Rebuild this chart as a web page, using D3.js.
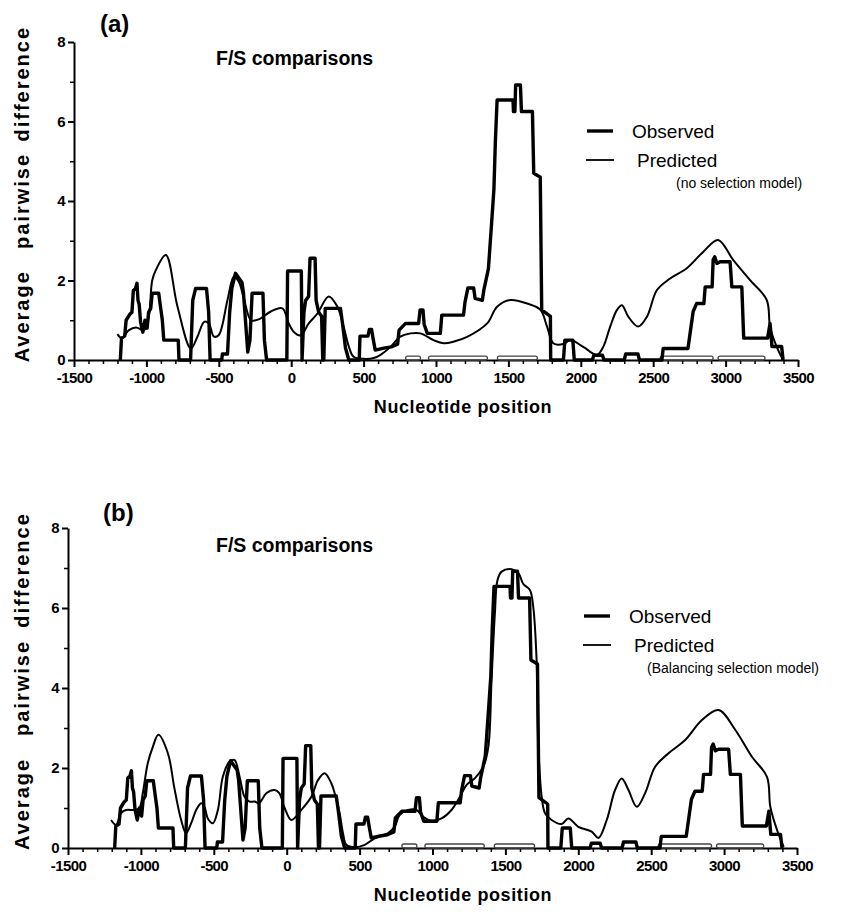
<!DOCTYPE html>
<html>
<head>
<meta charset="utf-8">
<title>F/S comparisons</title>
<script src="https://d3js.org/d3.v7.min.js"></script>
<style>
  body { margin: 0; background: #fff; }
  text { font-family: "Liberation Sans", Arial, Helvetica, sans-serif; fill: #000; }
  .axis path, .axis line { stroke: #000; stroke-width: 2px; }
  .axis text { font-size: 15px; font-weight: bold; letter-spacing: -0.6px; }
  .minor line { stroke-width: 1.5px; }
  .ylab { font-size: 20px; font-weight: bold; letter-spacing: 2px; }
  .xlab { font-size: 18px; font-weight: bold; letter-spacing: 0.6px; }
  .title { font-size: 19.5px; font-weight: bold; }
  .panel { font-size: 24px; font-weight: bold; }
  .leg { font-size: 19px; }
  .note { font-size: 14px; }
</style>
</head>
<body>
<svg id="chart" width="851" height="915"></svg>
<script>
// observed average pairwise difference (same in both panels), [position, value]
var observed = [
  [-1180, 0], [-1172, 0.55], [-1150, 0.6], [-1140, 1.0], [-1115, 1.15], [-1100, 1.2],
  [-1090, 1.75], [-1075, 1.8], [-1065, 1.93], [-1058, 1.5], [-1050, 1.4], [-1040, 0.95],
  [-1025, 0.7], [-1010, 1.0], [-995, 0.8], [-985, 1.2], [-970, 1.3], [-960, 1.68],
  [-915, 1.68], [-905, 1.4], [-890, 1.0], [-880, 0.5], [-780, 0.5], [-775, 0],
  [-695, 0], [-680, 1.5], [-660, 1.8], [-585, 1.8], [-570, 1.2], [-560, 0],
  [-480, 0], [-475, 0.15], [-440, 0.15], [-425, 1.2], [-410, 1.8], [-385, 2.18],
  [-340, 1.95], [-330, 1.7], [-300, 0.2], [-285, 0.5], [-270, 1.68], [-195, 1.68],
  [-185, 0.5], [-170, 0], [-30, 0], [-25, 2.24], [70, 2.24], [75, 0],
  [88, 1.2], [100, 1.5], [120, 1.6], [130, 2.56], [165, 2.56], [172, 1.5],
  [190, 1.2], [210, 1.1], [218, 0], [225, 0], [235, 1.3], [340, 1.3],
  [355, 0.9], [375, 0.3], [398, 0], [470, 0], [475, 0.6], [530, 0.6],
  [540, 0.77], [555, 0.77], [565, 0.55], [580, 0.25], [640, 0.3], [690, 0.33],
  [735, 0.4], [745, 0.75], [790, 0.92], [880, 0.92], [890, 1.26], [910, 1.26],
  [918, 0.9], [940, 0.67], [1030, 0.67], [1040, 1.13], [1190, 1.13], [1200, 1.45],
  [1220, 1.81], [1260, 1.81], [1270, 1.55], [1320, 1.5], [1330, 1.75], [1362, 2.3],
  [1387, 3.6], [1400, 4.3], [1410, 5.5], [1422, 6.54], [1532, 6.54], [1535, 6.25],
  [1545, 6.25], [1550, 6.92], [1583, 6.92], [1590, 6.25], [1666, 6.25], [1675, 4.7],
  [1720, 4.6], [1730, 1.26], [1790, 1.1], [1792, 0], [1880, 0], [1890, 0.5],
  [1945, 0.5], [1955, 0], [2080, 0], [2090, 0.12], [2150, 0.12], [2160, 0],
  [2300, 0], [2310, 0.15], [2395, 0.15], [2405, 0], [2560, 0], [2569, 0.29],
  [2740, 0.29], [2776, 1.22], [2800, 1.42], [2850, 1.42], [2859, 1.84], [2907, 1.84],
  [2914, 2.52], [2925, 2.6], [2940, 2.43], [2962, 2.47], [3031, 2.47], [3043, 1.84],
  [3112, 1.84], [3125, 0.55], [3290, 0.55], [3307, 0.92], [3320, 0.34], [3387, 0.34],
  [3397, 0]
];

// predicted, no selection model
var predictedA = [
  [-1200, 0.65], [-1170, 0.55], [-1121, 0.75], [-1072, 0.82], [-1017, 0.75], [-985, 1.05],
  [-960, 2.0], [-935, 2.26], [-866, 2.64], [-785, 1.34], [-693, 0.29], [-647, 0.59],
  [-601, 0.96], [-569, 0.92], [-534, 0.59], [-500, 0.63], [-440, 1.51], [-396, 2.1],
  [-362, 1.97], [-327, 1.55], [-279, 1.0], [-245, 1.0], [-210, 1.05], [-141, 1.22],
  [-61, 1.3], [-17, 0.92], [20, 0.7], [66, 0.62], [121, 0.92], [181, 1.17],
  [259, 1.6], [319, 1.34], [362, 0.84], [398, 0.34], [431, 0.08], [500, 0.03],
  [570, 0.05], [617, 0.13], [686, 0.33], [750, 0.58], [824, 0.67], [893, 0.67],
  [983, 0.5], [1052, 0.42], [1130, 0.47], [1215, 0.58], [1353, 0.92], [1422, 1.34],
  [1514, 1.51], [1629, 1.42], [1721, 1.26], [1767, 0.84], [1810, 0.42], [1879, 0.4],
  [1928, 0.5], [2017, 0.33], [2112, 0.13], [2155, 0.33], [2203, 0.84], [2250, 1.26],
  [2284, 1.38], [2328, 1.09], [2397, 0.84], [2457, 1.09], [2526, 1.76], [2617, 2.05],
  [2732, 2.31], [2845, 2.72], [2948, 3.02], [3052, 2.52], [3169, 2.01], [3284, 1.51],
  [3307, 0.84], [3353, 0.33], [3397, 0]
];

// predicted, balancing selection model
var predictedB = [
  [-1205, 0.7], [-1170, 0.58], [-1136, 0.87], [-1102, 0.95], [-1040, 0.95], [-1010, 1.0],
  [-987, 1.37], [-953, 2.12], [-918, 2.53], [-880, 2.83], [-815, 2.37], [-770, 1.49],
  [-724, 0.7], [-690, 0.37], [-655, 0.62], [-621, 0.95], [-587, 1.12], [-566, 1.05],
  [-541, 0.74], [-506, 0.62], [-472, 0.95], [-438, 1.78], [-392, 2.16], [-358, 2.2],
  [-323, 1.78], [-289, 1.28], [-255, 1.16], [-220, 1.16], [-190, 1.12], [-140, 1.37],
  [-83, 1.45], [-51, 1.37], [-14, 1.0], [32, 0.7], [100, 0.95], [169, 1.28],
  [215, 1.7], [260, 1.87], [306, 1.62], [329, 1.37], [363, 0.87], [386, 0.37],
  [409, 0.08], [470, 0.02], [535, 0.08], [604, 0.24], [696, 0.37], [742, 0.54],
  [775, 0.83], [833, 0.95], [890, 0.95], [936, 0.78], [993, 0.68], [1062, 0.74],
  [1130, 0.95], [1188, 1.28], [1234, 1.58], [1290, 1.74], [1348, 2.03], [1383, 2.53],
  [1405, 4.2], [1428, 5.87], [1446, 6.7], [1474, 6.91], [1543, 6.97], [1589, 6.87],
  [1623, 6.6], [1668, 6.45], [1691, 6.03], [1714, 4.7], [1726, 2.53], [1749, 1.28],
  [1772, 0.87], [1817, 0.7], [1886, 0.6], [1932, 0.74], [2000, 0.53], [2092, 0.41],
  [2138, 0.25], [2195, 0.7], [2252, 1.45], [2298, 1.74], [2344, 1.45], [2401, 1.03],
  [2458, 1.37], [2527, 2.03], [2619, 2.37], [2733, 2.7], [2848, 3.2], [2962, 3.45],
  [3077, 2.95], [3191, 2.28], [3294, 1.78], [3317, 1.03], [3363, 0.45], [3409, 0.03]
];

// small boxes sitting on the baseline, [start, end]
var segments = [[790, 893], [948, 1355], [1424, 1700], [2548, 2914], [2948, 3272]];
var segHeight = 0.1;

var xTicks = [-1500, -1000, -500, 0, 500, 1000, 1500, 2000, 2500, 3000, 3500];
var xMinor = d3.range(-1500, 3501, 100).filter(function(d) { return d % 500 != 0; });
var yTicks = [0, 2, 4, 6, 8];
var yMinor = [1, 3, 5, 7];
var yWords = [["Average", 1.1], ["pairwise", 4.0], ["difference", 6.95]];

var svg = d3.select("#chart");

var panels = [
  {tag: "(a)", left: 74, right: 798, top: 42, bottom: 360, predicted: predictedA,
   note: "(no selection model)", titleY: 65, tagX: 100, tagY: 32,
   legX: 586, legY: 133, noteX: 676},
  {tag: "(b)", left: 68, right: 797, top: 528, bottom: 848, predicted: predictedB,
   note: "(Balancing selection model)", titleY: 552, tagX: 103, tagY: 521,
   legX: 583, legY: 618, noteX: 647}
];

panels.forEach(function(p) {
  var x = d3.scaleLinear().domain([-1500, 3500]).range([p.left, p.right]);
  var y = d3.scaleLinear().domain([0, 8]).range([p.bottom, p.top]);
  var g = svg.append("g");

  // minor ticks first so major ones sit on top
  g.append("g")
      .attr("class", "axis minor")
      .attr("transform", "translate(0," + p.bottom + ")")
      .call(d3.axisBottom(x).tickValues(xMinor).tickSize(4).tickSizeOuter(0).tickFormat(""))
      .select(".domain").remove();
  g.append("g")
      .attr("class", "axis minor")
      .attr("transform", "translate(" + p.left + ",0)")
      .call(d3.axisLeft(y).tickValues(yMinor).tickSize(4).tickSizeOuter(0).tickFormat(""))
      .select(".domain").remove();

  g.append("g")
      .attr("class", "axis")
      .attr("transform", "translate(0," + p.bottom + ")")
      .call(d3.axisBottom(x).tickValues(xTicks).tickSize(7).tickSizeOuter(0)
        .tickPadding(5).tickFormat(function(d) { return String(d); }));

  g.append("g")
      .attr("class", "axis")
      .attr("transform", "translate(" + p.left + ",0)")
      .call(d3.axisLeft(y).tickValues(yTicks).tickSize(6).tickSizeOuter(0)
        .tickPadding(3).tickFormat(function(d) { return String(d); }));

  // baseline boxes
  g.selectAll(".seg")
    .data(segments)
    .enter().append("rect")
      .attr("class", "seg")
      .attr("x", function(d) { return x(d[0]); })
      .attr("y", y(segHeight))
      .attr("width", function(d) { return x(d[1]) - x(d[0]); })
      .attr("height", y(0) - y(segHeight))
      .attr("rx", 2)
      .attr("fill", "none")
      .attr("stroke", "#444")
      .attr("stroke-width", 1.3);

  var line = d3.line()
      .x(function(d) { return x(d[0]); })
      .y(function(d) { return y(d[1]); });

  g.append("path")
      .datum(p.predicted)
      .attr("d", line.curve(d3.curveCatmullRom.alpha(0.5)))
      .attr("fill", "none")
      .attr("stroke", "#000")
      .attr("stroke-width", 2)
      .attr("stroke-linejoin", "round");

  g.append("path")
      .datum(observed)
      .attr("d", line.curve(d3.curveLinear))
      .attr("fill", "none")
      .attr("stroke", "#000")
      .attr("stroke-width", 3.4)
      .attr("stroke-linejoin", "round");

  // labels
  g.append("text").attr("class", "panel").attr("x", p.tagX).attr("y", p.tagY).text(p.tag);
  g.append("text").attr("class", "title").attr("x", 216).attr("y", p.titleY).text("F/S comparisons");
  g.append("text").attr("class", "xlab")
      .attr("x", 463).attr("y", p.bottom + 53)
      .attr("text-anchor", "middle")
      .text("Nucleotide position");

  yWords.forEach(function(w) {
    g.append("text").attr("class", "ylab")
        .attr("transform", "translate(29," + y(w[1]) + ") rotate(-90)")
        .attr("text-anchor", "middle")
        .text(w[0]);
  });

  // legend
  g.append("line").attr("x1", p.legX + 1).attr("x2", p.legX + 27)
      .attr("y1", p.legY - 2).attr("y2", p.legY - 2)
      .attr("stroke", "#000").attr("stroke-width", 3.4);
  g.append("text").attr("class", "leg").attr("x", p.legX + 46).attr("y", p.legY + 5).text("Observed");
  g.append("line").attr("x1", p.legX).attr("x2", p.legX + 28)
      .attr("y1", p.legY + 27).attr("y2", p.legY + 27)
      .attr("stroke", "#000").attr("stroke-width", 1.8);
  g.append("text").attr("class", "leg").attr("x", p.legX + 51).attr("y", p.legY + 34).text("Predicted");
  g.append("text").attr("class", "note").attr("x", p.noteX).attr("y", p.legY + 55).text(p.note);
});
</script>
</body>
</html>
